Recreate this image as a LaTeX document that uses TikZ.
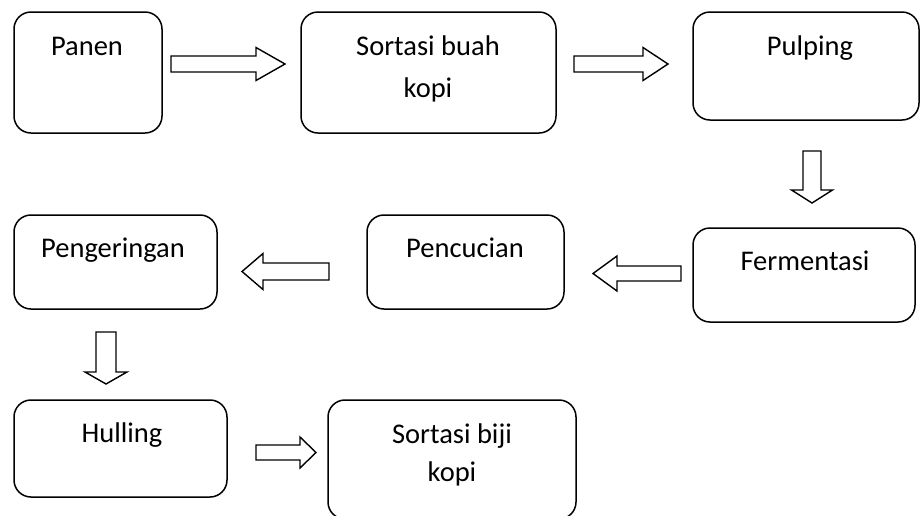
\documentclass[tikz,border=0pt]{standalone}
\usepackage{fontspec}
\setmainfont{Carlito}
\usetikzlibrary{calc}

\tikzset{
  stepbox/.style={draw=black, line width=1.5pt, rounded corners=17pt, inner sep=0pt, fill=white},
  steplabel/.style={anchor=base, inner sep=0pt, font=\fontsize{28.5}{34}\selectfont},
  blockarrow/.style={draw=black, line width=1.4pt, fill=white, line join=miter},
}

% Hollow block arrow: name, tail point, direction (deg), length,
% shaft half-width, head half-width, head length (all in pt)
\newcommand\hollowarrow[7]{%
  \coordinate (#1) at (#2);
  \begin{scope}[shift={(#1)}, rotate=#3]
    \draw[blockarrow] (0pt,#5pt) -- ({(#4-#7)*1pt},#5pt) -- ({(#4-#7)*1pt},#6pt)
      -- (#4pt,0pt) -- ({(#4-#7)*1pt},-#6pt) -- ({(#4-#7)*1pt},-#5pt)
      -- (0pt,-#5pt) -- cycle;
  \end{scope}}

\begin{document}
\begin{tikzpicture}[x=1pt, y=-1pt]
  \clip (0,0) rectangle (921,515);
  \fill[white] (0,0) rectangle (921,515);

  % process boxes
  \node[stepbox, minimum width=148pt, minimum height=121pt] (panen)    at (88,72.5)    {};
  \node[stepbox, minimum width=255pt, minimum height=121pt] (sortbuah) at (428.5,72.5)  {};
  \node[stepbox, minimum width=226pt, minimum height=108pt] (pulping)  at (806,66)      {};
  \node[stepbox, minimum width=222pt, minimum height=94pt]  (ferment)  at (804,275)     {};
  \node[stepbox, minimum width=197pt, minimum height=94pt]  (pencuc)   at (465.5,262)   {};
  \node[stepbox, minimum width=203pt, minimum height=94pt]  (penger)   at (115.5,262)   {};
  \node[stepbox, minimum width=213pt, minimum height=97pt]  (hulling)  at (120.5,448.5) {};
  \node[stepbox, minimum width=248pt, minimum height=119pt] (sortbiji) at (452,459.5)   {};

  % box captions
  \node[steplabel] (panen-t)     at (87,55)   {Panen};
  \node[steplabel] (sortbuah-t1) at (428,55)  {Sortasi buah};
  \node[steplabel] (sortbuah-t2) at (428,97)  {kopi};
  \node[steplabel] (pulping-t)   at (810,55)  {Pulping};
  \node[steplabel] (ferment-t)   at (805,270) {Fermentasi};
  \node[steplabel] (pencuc-t)    at (465,257) {Pencucian};
  \node[steplabel] (penger-t)    at (113,257) {Pengeringan};
  \node[steplabel] (hulling-t)   at (122,442) {Hulling};
  \node[steplabel] (sortbiji-t1) at (452,443) {Sortasi biji};
  \node[steplabel] (sortbiji-t2) at (452,481) {kopi};

  % flow arrows between the steps
  \hollowarrow{a-panen}{171,64}{0}{114}{8}{16.5}{29}
  \hollowarrow{a-sortbuah}{574,64}{0}{94}{8}{16.5}{25}
  \hollowarrow{a-pulping}{812,151}{-90}{52}{9}{20.5}{13}
  \hollowarrow{a-ferment}{681,273.5}{180}{88}{7.5}{17.5}{24}
  \hollowarrow{a-pencuc}{329,271.5}{180}{87}{8.5}{18}{21}
  \hollowarrow{a-penger}{106,332}{-90}{52}{10}{21}{12}
  \hollowarrow{a-hulling}{256,452.5}{0}{60}{7.5}{15.5}{16}
\end{tikzpicture}
\end{document}
